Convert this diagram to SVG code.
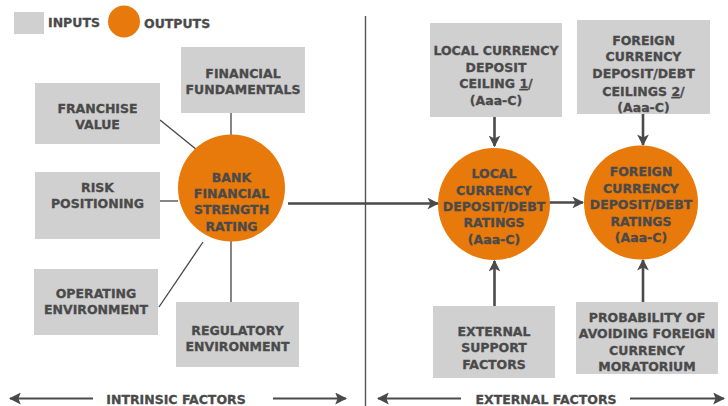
<svg xmlns="http://www.w3.org/2000/svg" width="728" height="406" viewBox="0 0 728 406">
  <defs>
    <style>
      .box { fill: #d0d0d0; }
      .out { fill: #e8790b; }
      .t { font-family: "DejaVu Sans", Verdana, sans-serif; font-weight: bold; font-size: 12.5px; fill: #4a4a4a; stroke: #4a4a4a; stroke-width: 0.3; text-anchor: middle; }
      .leg { font-family: "DejaVu Sans", Verdana, sans-serif; font-weight: bold; font-size: 12.5px; fill: #4a4a4a; stroke: #4a4a4a; stroke-width: 0.3; }
      .thin { stroke: #454545; stroke-width: 1.3; fill: none; }
      .arr { stroke: #4a4a4a; stroke-width: 2.6; fill: none; marker-end: url(#head); }
      .axis { stroke: #4a4a4a; stroke-width: 2; fill: none; }
      .u { text-decoration: underline; }
    </style>
    <marker id="head" viewBox="0 0 10 10" refX="9" refY="5" markerWidth="4.5" markerHeight="4.5" orient="auto" markerUnits="strokeWidth">
      <path d="M0,0 L10,5 L0,10 L2.5,5 z" fill="#4a4a4a"/>
    </marker>
    <marker id="axhead" viewBox="0 0 10 10" refX="9" refY="5" markerWidth="6" markerHeight="6" orient="auto-start-reverse" markerUnits="strokeWidth">
      <path d="M0,0 L10,5 L0,10 L2,5 z" fill="#4a4a4a"/>
    </marker>
  </defs>

  <!-- legend -->
  <g id="legend">
    <rect class="box" x="14" y="12" width="30" height="22"/>
    <text class="leg" x="48" y="27">INPUTS</text>
    <circle class="out" cx="124" cy="21.5" r="16"/>
    <text class="leg" x="144" y="28">OUTPUTS</text>
  </g>

  <!-- section divider -->
  <line x1="365.5" y1="16" x2="365.5" y2="406" stroke="#555" stroke-width="1.4"/>

  <!-- connectors -->
  <g id="connectors">
    <line class="thin" x1="160" y1="120" x2="202" y2="154"/>
    <line class="thin" x1="157" y1="201" x2="178" y2="201"/>
    <line class="thin" x1="159" y1="307" x2="203" y2="242"/>
    <line class="thin" x1="231" y1="113" x2="231" y2="135"/>
    <line class="thin" x1="231" y1="241" x2="231" y2="302"/>
    <line class="arr" x1="288" y1="203.5" x2="438" y2="203.5"/>
    <line class="arr" x1="549" y1="202.5" x2="583" y2="202.5"/>
    <line class="arr" x1="494.5" y1="117" x2="494.5" y2="146"/>
    <line class="arr" x1="643" y1="114" x2="643" y2="145"/>
    <line class="arr" x1="494.5" y1="306" x2="494.5" y2="261"/>
    <line class="arr" x1="643" y1="302" x2="643" y2="260"/>
    <!-- scope arrows along the bottom -->
    <line class="axis" x1="93" y1="398.5" x2="10" y2="398.5" marker-end="url(#axhead)"/>
    <line class="axis" x1="273" y1="398.5" x2="346" y2="398.5" marker-end="url(#axhead)"/>
    <line class="axis" x1="461" y1="398.5" x2="378" y2="398.5" marker-end="url(#axhead)"/>
    <line class="axis" x1="630" y1="398.5" x2="724" y2="398.5" marker-end="url(#axhead)"/>
  </g>

  <!-- intrinsic inputs -->
  <g id="franchise-value">
    <rect class="box" x="35" y="83" width="125" height="61"/>
    <text class="t" x="97.5" y="113">FRANCHISE</text>
    <text class="t" x="97.5" y="129">VALUE</text>
  </g>
  <g id="risk-positioning">
    <rect class="box" x="35" y="172" width="125" height="67"/>
    <text class="t" x="97.5" y="192">RISK</text>
    <text class="t" x="97.5" y="208">POSITIONING</text>
  </g>
  <g id="operating-environment">
    <rect class="box" x="34" y="269" width="124" height="66"/>
    <text class="t" x="96" y="298">OPERATING</text>
    <text class="t" x="96" y="314">ENVIRONMENT</text>
  </g>
  <g id="financial-fundamentals">
    <rect class="box" x="181" y="47" width="124" height="66"/>
    <text class="t" x="243" y="78">FINANCIAL</text>
    <text class="t" x="243" y="94">FUNDAMENTALS</text>
  </g>
  <g id="regulatory-environment">
    <rect class="box" x="176" y="302" width="123" height="65"/>
    <text class="t" x="237.5" y="335">REGULATORY</text>
    <text class="t" x="237.5" y="351">ENVIRONMENT</text>
  </g>

  <!-- intrinsic output -->
  <g id="bank-financial-strength">
    <circle class="out" cx="231.5" cy="188" r="53.5"/>
    <text class="t" x="231.5" y="182">BANK</text>
    <text class="t" x="231.5" y="198">FINANCIAL</text>
    <text class="t" x="231.5" y="214">STRENGTH</text>
    <text class="t" x="231.5" y="231">RATING</text>
  </g>

  <!-- external inputs -->
  <g id="local-currency-ceiling">
    <rect class="box" x="430" y="23" width="132" height="94"/>
    <text class="t" x="496" y="55">LOCAL CURRENCY</text>
    <text class="t" x="496" y="72">DEPOSIT</text>
    <text class="t" x="496" y="88">CEILING <tspan class="u">1</tspan>/</text>
    <text class="t" x="496" y="105">(Aaa-C)</text>
  </g>
  <g id="foreign-currency-ceilings">
    <rect class="box" x="577" y="20" width="133" height="94"/>
    <text class="t" x="643.5" y="45">FOREIGN</text>
    <text class="t" x="643.5" y="61">CURRENCY</text>
    <text class="t" x="643.5" y="78">DEPOSIT/DEBT</text>
    <text class="t" x="643.5" y="96">CEILINGS <tspan class="u">2</tspan>/</text>
    <text class="t" x="643.5" y="112">(Aaa-C)</text>
  </g>
  <g id="external-support">
    <rect class="box" x="433" y="306" width="122" height="72"/>
    <text class="t" x="494" y="336">EXTERNAL</text>
    <text class="t" x="494" y="352">SUPPORT</text>
    <text class="t" x="494" y="369">FACTORS</text>
  </g>
  <g id="moratorium-probability">
    <rect class="box" x="576" y="302" width="142" height="72"/>
    <text class="t" x="647" y="322">PROBABILITY OF</text>
    <text class="t" x="647" y="338">AVOIDING FOREIGN</text>
    <text class="t" x="647" y="355">CURRENCY</text>
    <text class="t" x="647" y="371">MORATORIUM</text>
  </g>

  <!-- external outputs -->
  <g id="local-currency-ratings">
    <circle class="out" cx="494" cy="204" r="56"/>
    <text class="t" x="494" y="178">LOCAL</text>
    <text class="t" x="494" y="195">CURRENCY</text>
    <text class="t" x="494" y="211">DEPOSIT/DEBT</text>
    <text class="t" x="494" y="227">RATINGS</text>
    <text class="t" x="494" y="244">(Aaa-C)</text>
  </g>
  <g id="foreign-currency-ratings">
    <circle class="out" cx="641" cy="202.5" r="57"/>
    <text class="t" x="641" y="176">FOREIGN</text>
    <text class="t" x="641" y="193">CURRENCY</text>
    <text class="t" x="641" y="209">DEPOSIT/DEBT</text>
    <text class="t" x="641" y="226">RATINGS</text>
    <text class="t" x="641" y="242">(Aaa-C)</text>
  </g>

  <!-- scope labels -->
  <text class="t" x="176" y="403.5">INTRINSIC FACTORS</text>
  <text class="t" x="546" y="403.5">EXTERNAL FACTORS</text>
</svg>
